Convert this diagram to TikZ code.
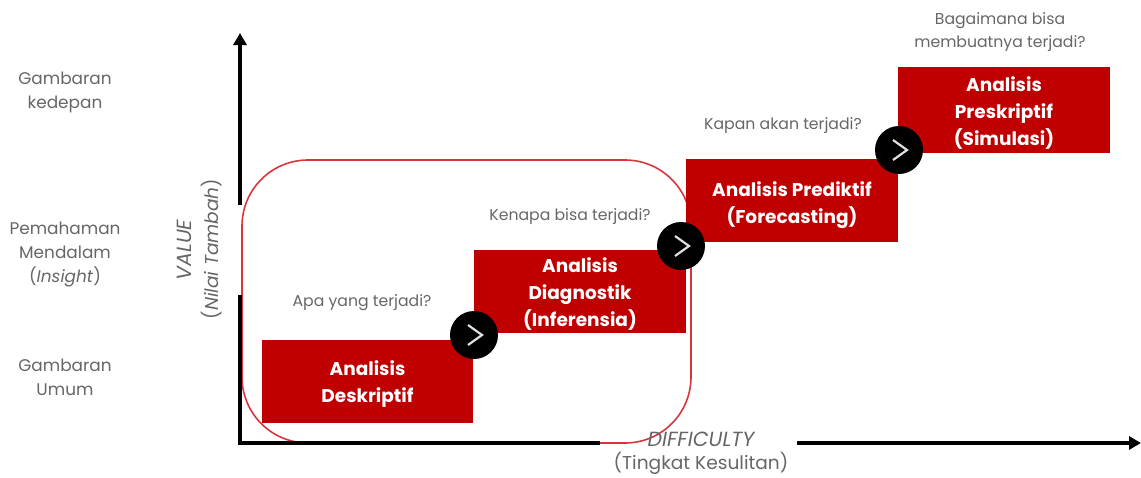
\documentclass[tikz,border=0pt]{standalone}
\usepackage{fontspec}
\setmainfont{Poppins}
\usetikzlibrary{arrows.meta}
\definecolor{boxred}{HTML}{C00000}
\definecolor{ringred}{HTML}{D8363C}
\definecolor{lighttext}{HTML}{666666}
\tikzset{
  x=1pt,y=-1pt,
  stepbox/.style={fill=boxred,draw=none,inner sep=0pt,minimum width=#1,text=white,font=\fontsize{18.5}{27}\selectfont\bfseries,align=center},
  question/.style={text=lighttext,font=\fontsize{15.7}{23}\selectfont,align=center,inner sep=0pt},
  sidelabel/.style={text=lighttext,font=\fontsize{16.9}{24}\selectfont,align=center,inner sep=0pt},
  axislabel/.style={text=lighttext,font=\fontsize{18.6}{24}\selectfont,align=center,inner sep=0pt},
  capslabel/.style={text=lighttext,font=\fontsize{20.5}{24}\selectfont\itshape,inner sep=0pt},
  stepdot/.style={circle,fill=black,draw=none,minimum size=48pt,inner sep=0pt},
  chev/.style={draw=white!88!black,line width=2.2pt},
  axisline/.style={draw=black,line width=3.5pt},
  axishead/.style={draw=black,line width=3.5pt,-{Triangle[length=12pt,width=13pt]}},
}
\begin{document}
\begin{tikzpicture}
\useasboundingbox (0,0) rectangle (1141,477);
% ring
\draw[ringred,line width=1.6pt,rounded corners=66pt] (242,160) rectangle (691,443);
% axes
\coordinate (org) at (240,443);
\coordinate (ygapb) at (240,295);
\coordinate (ygapt) at (240,205);
\coordinate (ytop) at (240,33);
\coordinate (xorg) at (238,443);
\coordinate (xgapl) at (600,443);
\coordinate (xgapr) at (797,443);
\coordinate (xend) at (1141,443);
\draw[axisline] (org) -- (ygapb);
\draw[axishead] (ygapt) -- (ytop);
\draw[axisline] (xorg) -- (xgapl);
\draw[axishead] (xgapr) -- (xend);
% boxes
\node[stepbox=211pt,minimum height=83pt] (b1) at (367.5,381.5) {\rule{0pt}{19pt}Analisis\\Deskriptif};
\node[stepbox=212pt,minimum height=83pt] (b2) at (580,291.5) {\rule{0pt}{20pt}Analisis\\Diagnostik\\(Inferensia)};
\node[stepbox=212pt,minimum height=83pt] (b3) at (792,200.5) {\rule{0pt}{25pt}Analisis Prediktif\\(Forecasting)};
\node[stepbox=212pt,minimum height=86pt] (b4) at (1004,110) {\rule{0pt}{21pt}Analisis\\Preskriptif\\(Simulasi)};
% dots
\node[stepdot] (d1) at (474,335) {};
\node[stepdot] (d2) at (681,246) {};
\node[stepdot] (d3) at (899,150) {};
\foreach \d in {d1,d2,d3}
  \draw[chev] ([shift={(-6,-10)}]\d.center) -- ([shift={(8,0)}]\d.center) -- ([shift={(-6,10)}]\d.center);
% questions
\node[question] (q1) at (362,303) {Apa yang terjadi?};
\node[question] (q2) at (570,217) {Kenapa bisa terjadi?};
\node[question] (q3) at (783,126) {Kapan akan terjadi?};
\node[question] (q4) at (1000,32) {Bagaimana bisa\\membuatnya terjadi?};
% side labels
\node[sidelabel] (s1) at (65,92) {Gambaran\\kedepan};
\node[sidelabel] (s2) at (65,255) {Pemahaman\\Mendalam\\(\textit{Insight})};
\node[sidelabel] (s3) at (65,377) {Gambaran\\Umum};
% axis labels
\node[capslabel,rotate=90] (v1) at (184,250) {VALUE};
\node[axislabel,rotate=90] (v2) at (212,249) {(\textit{Nilai Tambah})};
\node[capslabel] (h1) at (701,439) {DIFFICULTY};
\node[axislabel] (h2) at (701,463) {(Tingkat Kesulitan)};
\end{tikzpicture}
\end{document}
